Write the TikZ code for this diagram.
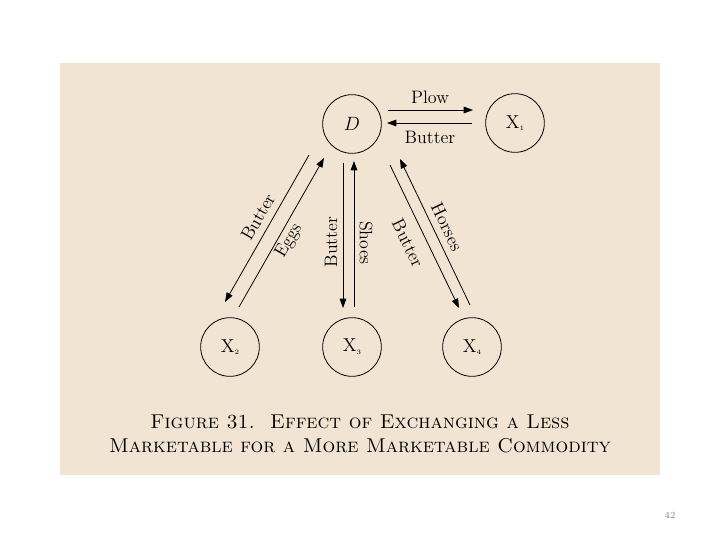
\documentclass[tikz,border=0pt]{standalone}
\usetikzlibrary{arrows.meta}
\definecolor{bg}{RGB}{242,228,211}
\begin{document}
\begin{tikzpicture}[x=0.75pt,y=-0.75pt,
  party/.style={draw,circle,minimum size=44pt,inner sep=0pt,line width=0.6pt,font=\fontsize{14}{16}\selectfont},
  flow/.style={line width=0.6pt,-{Triangle[length=7pt,width=5pt]}},
  lbl/.style={font=\fontsize{13.5}{15}\selectfont,inner sep=0pt}]
\useasboundingbox (0,0) rectangle (720,540);
\fill[bg] (60,63) rectangle (660,475);
\node[party] (D) at (352,124) {$D$};
\node[party] (X1) at (515,123) {X\raisebox{-2pt}{\tiny 1}};
\node[party] (X2) at (230,347) {X\raisebox{-2pt}{\tiny 2}};
\node[party] (X3) at (352,347) {X\raisebox{-2pt}{\tiny 3}};
\node[party] (X4) at (472,347) {X\raisebox{-2pt}{\tiny 4}};
% top
\coordinate (p1) at (388,110); \coordinate (p2) at (473,110);
\coordinate (b1) at (472,123); \coordinate (b2) at (387,123);
\draw[flow] (p1) -- (p2);
\draw[flow] (b1) -- (b2);
\node[lbl] (lplow) at (430,97) {Plow};
\node[lbl] (lbut1) at (430,137) {Butter};
% left diagonal
\coordinate (l1) at (309,155); \coordinate (l2) at (225,302);
\coordinate (e1) at (239,307); \coordinate (e2) at (324,158);
\draw[flow] (l1) -- (l2);
\draw[flow] (e1) -- (e2);
\node[lbl,rotate=60] (lbut2) at (258,217) {Butter};
\node[lbl,rotate=60] (leggs) at (289,241) {Eggs};
% middle
\coordinate (m1) at (343,163); \coordinate (m2) at (343,308);
\coordinate (s1) at (354,307); \coordinate (s2) at (354,161);
\draw[flow] (m1) -- (m2);
\draw[flow] (s1) -- (s2);
\node[lbl,rotate=90] (lbut3) at (331,242) {Butter};
\node[lbl,rotate=-90] (lshoes) at (366,243) {Shoes};
% right diagonal
\coordinate (r1) at (390,165); \coordinate (r2) at (459,308);
\coordinate (h1) at (470,305); \coordinate (h2) at (400,159);
\draw[flow] (r1) -- (r2);
\draw[flow] (h1) -- (h2);
\node[lbl,rotate=-64] (lbut4) at (408,243) {Butter};
\node[lbl,rotate=-64] (lhorses) at (447,227) {Horses};
% caption
\node[font=\fontsize{15}{18}\selectfont,align=center] (cap) at (360,434)
  {\textsc{Figure 31.\ \ Effect of Exchanging a Less}\\
   \textsc{Marketable for a More Marketable Commodity}};
\node[font=\fontsize{7}{8}\selectfont,text=gray] (pg) at (670,515) {42};
\end{tikzpicture}
\end{document}
